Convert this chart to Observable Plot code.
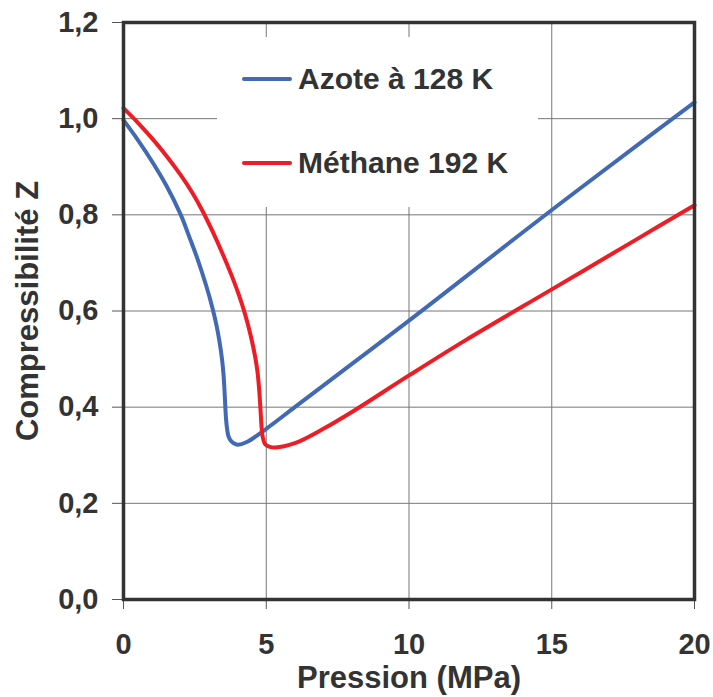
<!DOCTYPE html>
<html>
<head>
<meta charset="utf-8">
<script src="https://cdn.jsdelivr.net/npm/d3@7"></script>
<script src="https://cdn.jsdelivr.net/npm/@observablehq/plot@0.6"></script>
<style>
  html, body { margin: 0; padding: 0; background: #fff; }
  #wrap { position: relative; width: 713px; height: 697px; font-family: "Liberation Sans", Arial, sans-serif; }
  #legend { position: absolute; left: 217px; top: 37px; width: 321px; height: 170px; background: #fff; }
  .item { position: absolute; left: 25px; display: flex; align-items: center; font-weight: bold; font-size: 30px; line-height: 34px; color: #333; }
  .swatch { width: 50px; height: 4px; border-radius: 2px; margin-right: 6px; }
</style>
</head>
<body>
<div id="wrap"></div>
<script>
const seriesNames = ["Azote à 128 K", "Méthane 192 K"];
const seriesColors = ["#4169b4", "#ee1c25"];

const azoteP = [0, 0.5, 1.0, 1.5, 2.0, 2.3, 2.6, 2.9, 3.1, 3.25, 3.36, 3.45, 3.5, 3.53, 3.56, 3.59, 3.63, 3.68, 3.76, 3.86, 4.0, 4.3, 5, 6, 8, 10, 12, 15, 18, 20];
const azoteZ = [0.997, 0.956, 0.911, 0.861, 0.801, 0.755, 0.707, 0.652, 0.61, 0.572, 0.537, 0.50, 0.47, 0.443, 0.408, 0.377, 0.354, 0.339, 0.330, 0.325, 0.322, 0.327, 0.355, 0.40, 0.49, 0.58, 0.672, 0.81, 0.945, 1.034];

const methaneP = [0, 0.5, 1.0, 1.5, 2.0, 2.4, 2.76, 3.1, 3.5, 3.8, 4.05, 4.25, 4.45, 4.62, 4.7, 4.76, 4.8, 4.83, 4.87, 4.95, 5.1, 5.32, 6, 7, 8, 10, 12, 15, 18, 20];
const methaneZ = [1.022, 0.992, 0.959, 0.923, 0.883, 0.847, 0.809, 0.768, 0.715, 0.672, 0.632, 0.595, 0.55, 0.502, 0.47, 0.43, 0.394, 0.364, 0.34, 0.324, 0.318, 0.316, 0.325, 0.355, 0.39, 0.466, 0.54, 0.645, 0.75, 0.82];

const xTicks = [0, 5, 10, 15, 20];
const yTicks = [0, 0.2, 0.4, 0.6, 0.8, 1.0, 1.2];

const azote = azoteP.map((p, i) => ({p, z: azoteZ[i], s: seriesNames[0]}));
const methane = methaneP.map((p, i) => ({p, z: methaneZ[i], s: seriesNames[1]}));

const fmt = d => d3.format(".1f")(d).replace(".", ",");

const chart = Plot.plot({
  width: 713,
  height: 697,
  marginLeft: 123,
  marginRight: 19,
  marginTop: 22,
  marginBottom: 98,
  style: {fontFamily: "'Liberation Sans', Arial, sans-serif", fontSize: "29px", fontWeight: "bold", color: "#333", background: "#fff"},
  x: {domain: [0, 20]},
  y: {domain: [0, 1.2]},
  marks: [
    Plot.gridX(xTicks, {stroke: "#777", strokeOpacity: 1, strokeWidth: 1}),
    Plot.gridY(yTicks, {stroke: "#777", strokeOpacity: 1, strokeWidth: 1}),
    Plot.axisX(xTicks, {tickSize: 10, tickPadding: 24, stroke: "#555", fill: "#333", fontSize: 29, label: null}),
    Plot.axisX({ticks: [], label: "Pression (MPa)", labelAnchor: "center", labelArrow: "none", labelOffset: 88, fontSize: 31, fill: "#333"}),
    Plot.axisY(yTicks, {tickSize: 11, tickPadding: 14, stroke: "#555", fill: "#333", tickFormat: fmt, fontSize: 29, label: null}),
    Plot.axisY({ticks: [], label: "Compressibilité Z", labelAnchor: "center", labelArrow: "none", labelOffset: 108, fontSize: 31, fill: "#333"}),
    Plot.line(azote, {x: "p", y: "z", stroke: seriesColors[0], strokeWidth: 4, curve: "catmull-rom"}),
    Plot.line(methane, {x: "p", y: "z", stroke: seriesColors[1], strokeWidth: 4, curve: "catmull-rom"}),
    Plot.frame({stroke: "#333", strokeWidth: 3.5})
  ]
});

const wrap = document.getElementById("wrap");
wrap.appendChild(chart);

const legend = document.createElement("div");
legend.id = "legend";
seriesNames.forEach((name, i) => {
  const it = document.createElement("div");
  it.className = "item";
  it.style.top = (i === 0 ? 25 : 109) + "px";
  const sw = document.createElement("div");
  sw.className = "swatch";
  sw.style.background = seriesColors[i];
  const tx = document.createElement("span");
  tx.textContent = name;
  it.appendChild(sw);
  it.appendChild(tx);
  legend.appendChild(it);
});
wrap.appendChild(legend);
</script>
</body>
</html>
